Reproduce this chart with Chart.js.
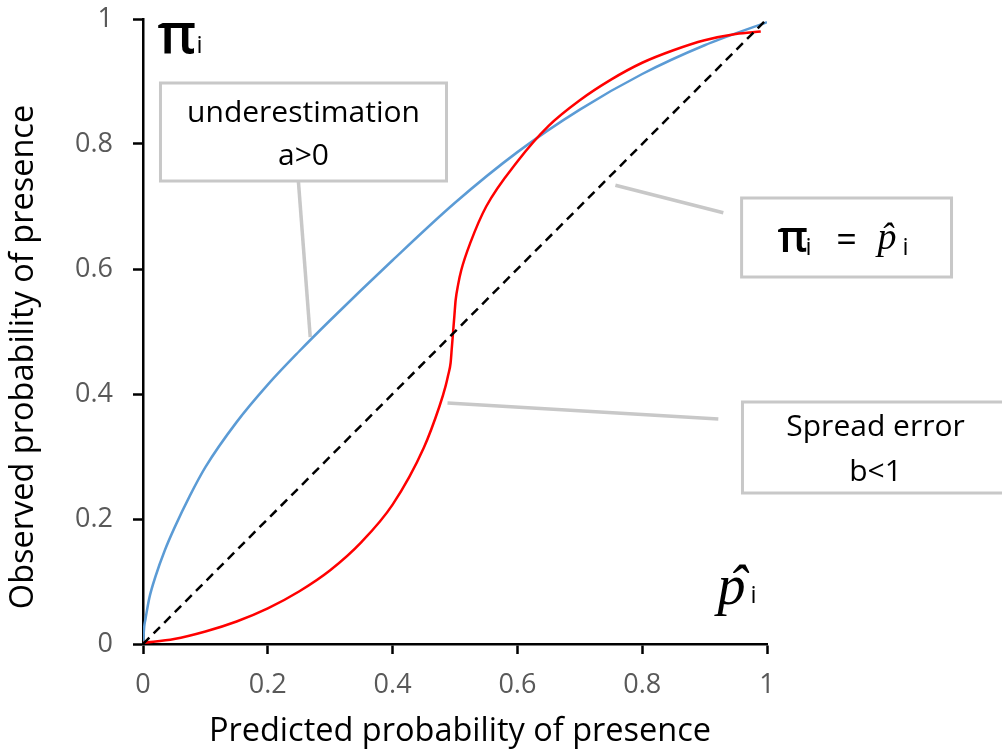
<!DOCTYPE html>
<html>
<head>
<meta charset="utf-8">
<script src="https://cdn.jsdelivr.net/npm/chart.js@4.4.1/dist/chart.umd.min.js"></script>
<style>
  body { margin: 0; background: #fff; }
  #wrap { width: 1002px; height: 750px; }
</style>
</head>
<body>
<div id="wrap"><canvas id="calib" width="1002" height="750"></canvas></div>
<script>
// tick positions and labels
const xTickValues = [0, 0.2, 0.4, 0.6, 0.8, 1];
const xTickLabels = ['0', '0.2', '0.4', '0.6', '0.8', '1'];
const yTickValues = [0, 0.2, 0.4, 0.6, 0.8, 1];
const yTickLabels = ['0', '0.2', '0.4', '0.6', '0.8', '1'];

// blue curve: underestimation (a>0)
const blueX = [0, 0.002, 0.004, 0.01, 0.02, 0.035, 0.05, 0.075, 0.1, 0.15, 0.2, 0.25, 0.3, 0.4, 0.5, 0.6, 0.7, 0.8, 0.9, 1];
const blueY = [0, 0.028, 0.04, 0.073, 0.108, 0.15, 0.185, 0.237, 0.283, 0.355, 0.415, 0.468, 0.518, 0.614, 0.706, 0.787, 0.855, 0.912, 0.958, 0.995];

// red curve: spread error (b<1)
const redX = [0, 0.05, 0.1, 0.15, 0.2, 0.25, 0.3, 0.35, 0.4, 0.45, 0.475, 0.485, 0.489, 0.493, 0.495, 0.497, 0.499, 0.501, 0.505, 0.51, 0.525, 0.55, 0.6, 0.65, 0.7, 0.75, 0.8, 0.85, 0.9, 0.95, 0.99];
const redY = [0.002, 0.008, 0.02, 0.036, 0.057, 0.084, 0.118, 0.163, 0.223, 0.314, 0.38, 0.413, 0.43, 0.45, 0.475, 0.5, 0.525, 0.55, 0.575, 0.598, 0.643, 0.7, 0.772, 0.829, 0.87, 0.903, 0.93, 0.95, 0.966, 0.976, 0.98];

// perfect calibration line
const diagX = [0, 1];
const diagY = [0, 1];

const font = 'Open Sans';
const boxGrey = '#c8c8c8';

function toPoints(xs, ys) {
  return xs.map((v, i) => ({ x: v, y: ys[i] }));
}

// callout boxes, leader lines and symbols, in data units
const boxes = [
  [0.028, 0.8976, 0.4864, 0.7408],
  [0.9593, 0.7136, 1.2957, 0.5872],
  [0.9607, 0.3872, 1.39, 0.2416]
];
const leaders = [
  [0.249, 0.7408, 0.268, 0.491],
  [0.757, 0.734, 0.930, 0.690],
  [0.488, 0.3856, 0.922, 0.360]
];
const boxTexts = [
  ['underestimation', 0.2572, 0.8496],
  ['a>0', 0.2572, 0.7808],
  ['Spread error', 1.1739, 0.3472],
  ['b<1', 1.1739, 0.2752]
];

const notes = {
  id: 'notes',
  afterDraw(chart) {
    const { ctx, scales: { x, y } } = chart;
    const px = v => x.getPixelForValue(v);
    const py = v => y.getPixelForValue(v);
    ctx.save();

    ctx.strokeStyle = boxGrey;
    ctx.lineWidth = 3.5;
    leaders.forEach(l => {
      ctx.beginPath();
      ctx.moveTo(px(l[0]), py(l[1]));
      ctx.lineTo(px(l[2]), py(l[3]));
      ctx.stroke();
    });

    ctx.lineWidth = 3;
    boxes.forEach(b => {
      const x0 = px(b[0]), y0 = py(b[1]);
      const w = px(b[2]) - x0, h = py(b[3]) - y0;
      ctx.fillStyle = '#fff';
      ctx.fillRect(x0, y0, w, h);
      ctx.strokeRect(x0, y0, w, h);
    });

    ctx.fillStyle = '#000';
    ctx.textAlign = 'center';
    ctx.textBaseline = 'middle';
    ctx.font = '30px "' + font + '"';
    boxTexts.forEach(t => ctx.fillText(t[0], px(t[1]), py(t[2])));

    // pi_i at the top of the y axis
    ctx.textAlign = 'left';
    ctx.textBaseline = 'alphabetic';
    ctx.font = '600 56px "' + font + '"';
    ctx.fillText('\u03c0', px(0.0232), py(0.9456));
    ctx.font = '24px "' + font + '"';
    ctx.fillText('i', px(0.0857), py(0.9456));

    // p-hat_i at the end of the x axis
    ctx.font = 'italic 56px "Liberation Serif"';
    ctx.fillText('p', px(0.9207), py(0.064));
    ctx.textAlign = 'center';
    ctx.fillText('\u02c6', px(0.9527), py(0.064));
    ctx.textAlign = 'left';
    ctx.font = '24px "' + font + '"';
    ctx.fillText('i', px(0.9735), py(0.0656));

    // pi_i = p-hat_i inside the box
    ctx.font = '600 44px "' + font + '"';
    ctx.fillText('\u03c0', px(1.0168), py(0.6272));
    ctx.font = '24px "' + font + '"';
    ctx.fillText('i', px(1.0617), py(0.6224));
    ctx.font = '36px "' + font + '"';
    ctx.textAlign = 'center';
    ctx.textBaseline = 'middle';
    ctx.fillText('=', px(1.1274), py(0.6432));
    ctx.textBaseline = 'alphabetic';
    ctx.font = 'italic 38px "Liberation Serif"';
    ctx.textAlign = 'left';
    ctx.fillText('p', px(1.177), py(0.632));
    ctx.textAlign = 'center';
    ctx.fillText('\u02c6', px(1.1915), py(0.632));
    ctx.textAlign = 'left';
    ctx.font = '24px "' + font + '"';
    ctx.fillText('i', px(1.217), py(0.6224));

    // axis titles
    ctx.fillStyle = '#000';
    ctx.font = '32.5px "' + font + '"';
    ctx.textAlign = 'center';
    ctx.fillText('Predicted probability of presence', 460, 741);
    ctx.translate(33, 357);
    ctx.rotate(-Math.PI / 2);
    ctx.fillText('Observed probability of presence', 0, 0);

    ctx.restore();
  }
};

function axisOptions(values, labels, fit) {
  return {
    type: 'linear',
    min: 0,
    max: 1,
    afterBuildTicks: s => { s.ticks = values.map(v => ({ value: v })); },
    afterFit: s => {
      fit(s);
      // keep the label overhang from pushing the plot area in
      s.paddingTop = 0;
      s.paddingBottom = 0;
      s.paddingLeft = 0;
      s.paddingRight = 0;
    },
    ticks: {
      callback: (v, i) => labels[i],
      color: '#595959',
      font: { family: font, size: 27 },
      autoSkip: false,
      maxRotation: 0
    },
    grid: { drawOnChartArea: false, tickLength: 10, tickWidth: 2.5, tickColor: '#000' },
    border: { color: '#000', width: 2.5 }
  };
}

const xAxis = axisOptions(xTickValues, xTickLabels, s => { s.height = 106; });
xAxis.ticks.padding = 15;
const yAxis = axisOptions(yTickValues, yTickLabels, s => { s.width = 143; });
yAxis.ticks.padding = 20;

new Chart(document.getElementById('calib'), {
  type: 'line',
  data: {
    datasets: [
      {
        label: 'perfect',
        data: toPoints(diagX, diagY),
        borderColor: '#000',
        borderWidth: 2.5,
        borderDash: [9, 6],
        pointRadius: 0,
        order: 0
      },
      {
        label: 'underestimation',
        data: toPoints(blueX, blueY),
        borderColor: '#5B9BD5',
        borderWidth: 2.5,
        pointRadius: 0,
        cubicInterpolationMode: 'monotone',
        order: 2
      },
      {
        label: 'spread',
        data: toPoints(redX, redY),
        borderColor: '#FF0000',
        borderWidth: 2.5,
        pointRadius: 0,
        cubicInterpolationMode: 'monotone',
        order: 1
      }
    ]
  },
  options: {
    responsive: false,
    animation: false,
    devicePixelRatio: 1,
    layout: { padding: { left: 0, right: 235, top: 19, bottom: 0 } },
    plugins: { legend: { display: false }, tooltip: { enabled: false } },
    scales: { x: xAxis, y: yAxis }
  },
  plugins: [notes]
});
</script>
</body>
</html>
